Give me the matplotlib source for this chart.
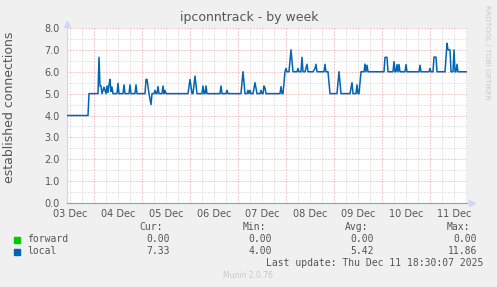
import matplotlib
matplotlib.use("Agg")
import matplotlib.pyplot as plt
import numpy as np

# hours counted from 03 Dec 00:00; window is 03 Dec 10:30 .. 11 Dec 18:30
hours = [
    10.5, 21.0, 21.5, 26.0, 26.5, 27.0, 27.5, 28.0, 29.0, 30.0, 30.5, 31.0,
    31.5, 32.0, 32.5, 33.0, 33.5, 35.5, 36.0, 36.5, 38.5, 39.0, 39.5, 41.5,
    42.0, 42.5, 44.5, 45.0, 45.5, 49.5, 50.0, 50.5, 51.5, 52.5, 53.0, 54.0,
    54.5, 55.0, 55.5, 56.0, 56.5, 58.0, 58.5, 59.0, 59.5, 60.0, 71.0, 72.0,
    73.0, 73.5, 74.5, 75.5, 78.0, 78.5, 79.0, 79.5, 80.0, 80.5, 87.0, 87.5,
    88.0, 90.0, 90.5, 91.0, 97.5, 98.5, 99.5, 100.5, 101.0, 101.5, 102.0,
    102.5, 103.5, 104.5, 105.5, 107.0, 107.5, 108.0, 108.5, 109.0, 109.5,
    110.0, 117.0, 117.5, 118.0, 118.5, 119.5, 120.0, 120.5, 121.5, 122.5,
    123.5, 125.5, 126.0, 126.5, 127.5, 128.0, 128.5, 129.5, 130.5, 131.0,
    133.5, 134.5, 135.0, 135.5, 139.0, 139.5, 140.0, 141.0, 142.0, 145.5,
    146.5, 147.5, 152.0, 153.0, 153.5, 155.0, 155.5, 156.0, 156.5, 157.5,
    159.0, 159.5, 160.0, 160.5, 161.0, 169.0, 169.5, 170.5, 171.0, 173.5,
    174.0, 174.5, 175.0, 175.5, 176.0, 176.5, 177.0, 179.5, 180.0, 180.5,
    186.5, 187.0, 187.5, 191.5, 192.0, 192.5, 193.5, 194.0, 195.0, 195.5,
    199.5, 200.5, 201.0, 202.0, 202.5, 203.5, 204.0, 204.5, 205.0, 205.5,
    206.0, 210.5,
]
local = [
    4.0, 4.0, 5.0, 5.0, 6.66, 5.35, 5.35, 5.0, 5.3, 5.0, 5.35, 5.05,
    5.4, 5.65, 5.1, 5.3, 5.0, 5.0, 5.47, 5.0, 5.0, 5.4, 5.0, 5.0,
    5.4, 5.0, 5.0, 5.4, 5.0, 5.0, 5.65, 5.65, 5.0, 4.5, 5.0, 5.0,
    5.15, 5.0, 5.0, 5.32, 5.0, 5.0, 5.35, 5.0, 5.15, 5.0, 5.0, 5.65,
    5.0, 5.0, 5.8, 5.0, 5.0, 5.35, 5.0, 5.0, 5.35, 5.0, 5.0, 5.35,
    5.0, 5.0, 5.15, 5.0, 5.0, 6.0, 5.0, 5.0, 5.15, 5.0, 5.15,
    5.0, 5.0, 5.5, 5.0, 5.0, 5.15, 5.0, 5.0, 5.35, 5.25,
    5.0, 5.0, 5.32, 5.0, 5.0, 6.0, 6.15, 6.0, 6.0, 7.0,
    6.0, 6.0, 6.15, 6.0, 6.0, 6.66, 6.0, 6.0, 6.34, 6.0,
    6.0, 6.15, 6.34, 6.0, 6.0, 6.34, 6.0, 6.0, 5.0, 5.0,
    6.0, 5.0, 5.0, 5.5, 5.0, 5.0, 5.4, 5.0, 5.0, 6.0,
    6.0, 6.35, 6.0, 6.3, 6.0, 6.0, 6.66, 6.66, 6.0, 6.0,
    6.46, 6.0, 6.0, 6.33, 6.0, 6.33, 6.0, 6.0, 6.33, 6.0,
    6.0, 6.3, 6.0, 6.0, 6.15, 6.0, 6.0, 6.67, 6.67, 6.0,
    6.0, 7.3, 7.0, 7.0, 6.0, 6.0, 7.0, 6.0, 6.0, 6.34,
    6.0, 6.0,
]
forward_hours = [10.5, 210.5]
forward = [0.0, 0.0]

day_labels = ["03 Dec", "04 Dec", "05 Dec", "06 Dec", "07 Dec",
              "08 Dec", "09 Dec", "10 Dec", "11 Dec"]
label_hours = [12 + 24 * i for i in range(len(day_labels))]
y_ticks = [0, 1, 2, 3, 4, 5, 6, 7, 8]

series_names = ["forward", "local"]
series_colors = ["#00cc00", "#0066b3"]
cur_vals = ["0.00", "7.33"]
min_vals = ["0.00", "4.00"]
avg_vals = ["0.00", "5.42"]
max_vals = ["0.00", "11.86"]

W, H = 497, 287
TXT = "#555555"


def fx(x):
    return x / W


def fy(y):
    return 1 - y / H


fig = plt.figure(figsize=(W / 100, H / 100), dpi=100, facecolor="#f0f0f0")
ax = fig.add_axes([fx(67), fy(203), 400 / W, 175 / H])
ax.set_facecolor("white")
ax.set_xlim(10.5, 210.5)
ax.set_ylim(0, 8)

# rrdtool style grid: grey minor, reddish major, sparse dots
dot = (0, (1, 2))
for h in np.arange(12, 211, 6):
    if h % 24:
        ax.axvline(h, color="#cccccc", lw=0.72, ls=dot, zorder=1)
for h in range(24, 211, 24):
    ax.axvline(h, color="#e89a9a", lw=0.72, ls=dot, zorder=1)
for v in np.arange(0.5, 8, 1.0):
    ax.axhline(v, color="#cccccc", lw=0.72, ls=dot, zorder=1)
for v in y_ticks:
    ax.axhline(v, color="#e89a9a", lw=0.72, ls=dot, zorder=1)

ax.plot(forward_hours, forward, color=series_colors[0], lw=0.8, alpha=0.6,
        zorder=3, clip_on=False)
ax.plot(hours, local, color=series_colors[1], lw=1.1, zorder=4)

for s in ["top", "right"]:
    ax.spines[s].set_visible(False)
for s in ["left", "bottom"]:
    ax.spines[s].set_color("#CFD6F8")
    ax.spines[s].set_linewidth(0.8)

# axis arrows
ax.plot([0], [1.025], marker="^", ms=4, color="#CFD6F8", transform=ax.transAxes,
        clip_on=False)
ax.plot([1.012], [0], marker=">", ms=4, color="#CFD6F8", transform=ax.transAxes,
        clip_on=False)

ax.set_xticks(label_hours)
ax.set_xticklabels(day_labels)
ax.set_yticks(y_ticks)
ax.set_yticklabels([f"{v:.1f}" for v in y_ticks])
ax.tick_params(length=0, labelsize=7, colors=TXT)
ax.tick_params(axis="y", pad=5)
ax.tick_params(axis="x", pad=4)

fig.text(fx(249), fy(17), "ipconntrack - by week", ha="center", va="center",
         fontsize=9, color=TXT)
fig.text(fx(10), fy(107), "established connections", rotation=90,
         ha="center", va="center", fontsize=9, color=TXT)
fig.text(fx(487), fy(5), "RRDTOOL / TOBI OETIKER", rotation=270,
         ha="center", va="top", fontsize=5.3, color="#c8c8c8")

# legend block
mono = dict(family="DejaVu Sans Mono", fontsize=7, color=TXT, va="center")
for label, xr in zip(["Cur:", "Min:", "Avg:", "Max:"], [163, 266, 368, 470]):
    fig.text(fx(xr), fy(227), label, ha="right", **mono)
row_y = [239.5, 251.5]
for i, name in enumerate(series_names):
    fig.patches.append(plt.Rectangle((fx(14), fy(row_y[i] + 3)), 6 / W, 6 / H,
                                     transform=fig.transFigure,
                                     color=series_colors[i]))
    fig.text(fx(27), fy(row_y[i]), name, ha="left", **mono)
    for vals, xr in zip([cur_vals, min_vals, avg_vals, max_vals],
                        [170, 272, 374, 477]):
        fig.text(fx(xr), fy(row_y[i]), vals[i], ha="right", **mono)
fig.text(fx(483), fy(263.5), "Last update: Thu Dec 11 18:30:07 2025",
         ha="right", **mono)
fig.text(fx(248), fy(276), "Munin 2.0.76", ha="center", va="center",
         fontsize=5.5, color="#c8c8c8")

fig.savefig("out.png", dpi=100, facecolor=fig.get_facecolor())
